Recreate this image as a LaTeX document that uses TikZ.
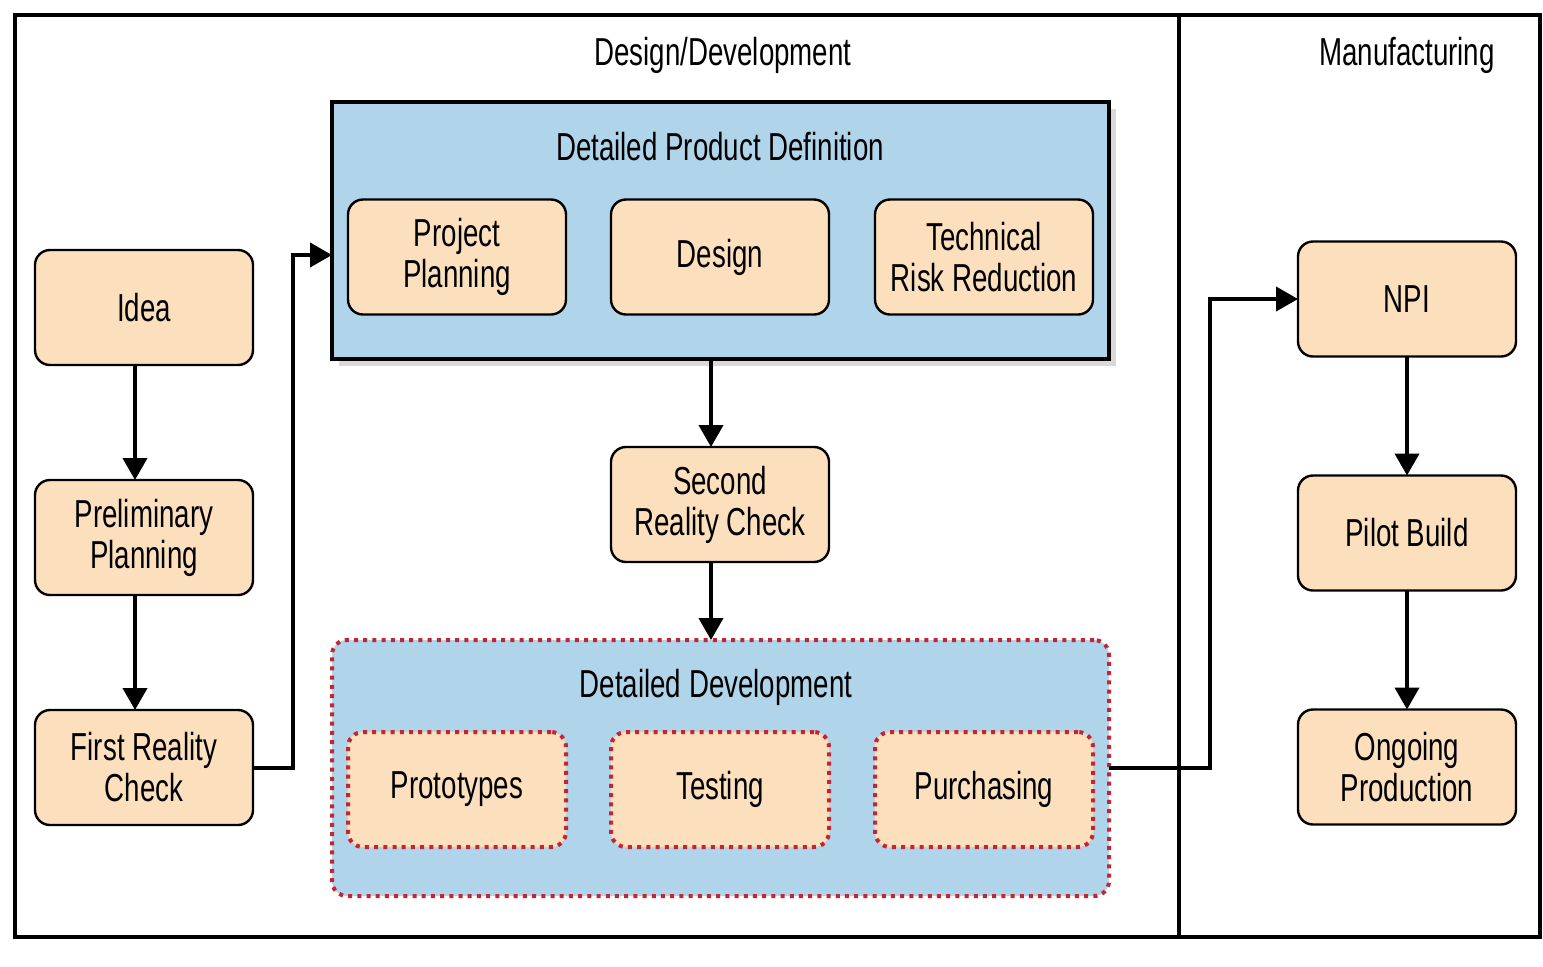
\documentclass[tikz,border=0pt]{standalone}
\usepackage{fontspec}
\setmainfont[FakeStretch=0.71]{Liberation Sans}
\usepackage{xcolor}
\usepackage{tikz}
\usetikzlibrary{arrows.meta,positioning,shadows}
\definecolor{durazno}{HTML}{FCDFBD}
\definecolor{celeste}{HTML}{B0D4EA}
\definecolor{rojo}{HTML}{C8232E}
\tikzset{
  texto/.style={font=\fontsize{19.5}{20.5}\selectfont,align=center,inner sep=2pt},
  caja/.style={texto,draw=black,fill=durazno,rounded corners=7.5pt,line width=1.2pt,minimum width=109pt,minimum height=57.5pt,outer sep=0pt},
  cajapunteada/.style={caja,draw=rojo,line width=2pt,dash pattern=on 2pt off 2.6pt},
  zona/.style={fill=celeste,minimum width=388.5pt,outer sep=0pt,inner sep=0pt},
  zonafirme/.style={zona,draw=black,line width=2pt,minimum height=128.5pt,drop shadow={shadow xshift=3.5pt,shadow yshift=-3.5pt,opacity=0.3}},
  zonapunteada/.style={zona,draw=rojo,line width=2pt,dash pattern=on 2pt off 2.6pt,rounded corners=7.5pt,minimum height=128pt},
  marco/.style={line width=2pt},
  flecha/.style={-{Triangle[length=11pt,width=12pt]},line width=2pt},
}

\begin{document}
\begin{tikzpicture}[x=0.5pt,y=-0.5pt]
  \useasboundingbox (0,0) rectangle (1543,966);
  \draw[marco] (15,15) rectangle (1540,937);
  \draw[marco] (1179,15) -- (1179,937);
  \node[texto] (disenodes) at (723,55) {Design/Development};
  \node[texto] (manufactura) at (1407,55) {Manufacturing};

  \node[zonafirme] (definicion) at (720.5,230.5) {};
  \node[texto] (tdefinicion) at (720,147) {Detailed Product Definition};
  \node[caja] (plan) at (457,257) {Project\\Planning};
  \node[caja] (diseno) at (720,257) {Design};
  \node[caja] (riesgo) at (984,257) {Technical\\Risk Reduction};

  \node[zonapunteada] (desarrollo) at (720.5,768) {};
  \node[texto] (tdesarrollo) at (716,687) {Detailed Development};
  \node[cajapunteada] (proto) at (457,789.5) {Prototypes};
  \node[cajapunteada] (pruebas) at (720,789.5) {Testing};
  \node[cajapunteada] (compras) at (984,789.5) {Purchasing};

  \node[caja] (idea) at (144,307.5) {Idea};
  \node[caja] (prelim) at (144,537.5) {Preliminary\\Planning};
  \node[caja] (primera) at (144,767.5) {First Reality\\Check};
  \node[caja] (segunda) at (720,504.5) {Second\\Reality Check};
  \node[caja] (npi) at (1407,299) {NPI};
  \node[caja] (piloto) at (1407,533) {Pilot Build};
  \node[caja] (continua) at (1407,767) {Ongoing\\Production};

  \draw[flecha] ([xshift=-4.5pt]idea.south) -- ([xshift=-4.5pt]prelim.north);
  \draw[flecha] ([xshift=-4.5pt]prelim.south) -- ([xshift=-4.5pt]primera.north);
  \draw[flecha] (primera.east) -- ++(20pt,0) |- ([yshift=-12.25pt]definicion.west);
  \draw[flecha] ([xshift=-4.75pt]definicion.south) -- ([xshift=-4.5pt]segunda.north);
  \draw[flecha] ([xshift=-4.5pt]segunda.south) -- ([xshift=-4.75pt]desarrollo.north);
  \draw[flecha] (desarrollo.east) -- ++(50.5pt,0) |- (npi.west);
  \draw[flecha] (npi.south) -- (piloto.north);
  \draw[flecha] (piloto.south) -- (continua.north);
\end{tikzpicture}
\end{document}
